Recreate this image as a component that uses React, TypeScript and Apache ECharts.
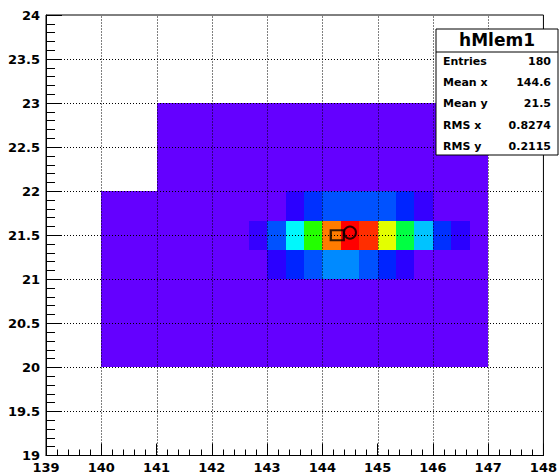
import React, { useEffect, useRef } from "react";
import * as echarts from "echarts";

// ---- data ----
const xRange = [139, 148];
const yRange = [19, 24];
const gridX = [140, 141, 142, 143, 144, 145, 146, 147];
const gridY = [19.5, 20, 20.5, 21, 21.5, 22, 22.5, 23, 23.5];
const BIN = 1 / 3;

// low-content background blocks (each filled bin carries this value)
const bgXFrom = [140, 141];
const bgXTo = [147, 147];
const bgYFrom = [20, 22];
const bgYTo = [22, 23];
const bgValue = 1;

// core rows of the peak (bin contents, left to right)
const coreRowY = [21, 21 + 1 / 3, 21 + 2 / 3];
const coreRowXStart = [143, 142 + 2 / 3, 143 + 1 / 3];
const coreRowLow = [6, 13, 17, 22, 22, 17, 13, 6];
const coreRowMid = [5, 17, 32, 58, 89, 100, 96, 75, 49, 27, 14, 6];
const coreRowTop = [6, 14, 17, 17, 17, 17, 13, 5];
const coreRows = [coreRowLow, coreRowMid, coreRowTop];

const squareMarker = [[144.27, 21.5]];
const circleMarker = [[144.5, 21.53]];

const statNames = ["Entries", "Mean x", "Mean y", "RMS x", "RMS y"];
const statValues = ["180", "144.6", "21.5", "0.8274", "0.2115"];
const histTitle = "hMlem1";

// ---- palette (style) ----
function hueHex(h: number): string {
  const f = (n: number) => {
    const k = (n + h / 30) % 12;
    const v = 0.5 - 0.5 * Math.max(-1, Math.min(k - 3, 9 - k, 1));
    return Math.round(v * 255).toString(16).padStart(2, "0");
  };
  return "#" + f(0) + f(8) + f(4);
}
const palette: string[] = [];
for (let i = 0; i <= 38; i++) palette.push(hueHex(266 * (1 - i / 38)));

function buildCells() {
  const map = new Map<string, number[]>();
  for (let r = 0; r < bgXFrom.length; r++) {
    const i0 = Math.round(bgXFrom[r] * 3), i1 = Math.round(bgXTo[r] * 3);
    const j0 = Math.round(bgYFrom[r] * 3), j1 = Math.round(bgYTo[r] * 3);
    for (let i = i0; i < i1; i++)
      for (let j = j0; j < j1; j++)
        map.set(i + "_" + j, [i / 3, j / 3, i / 3 + BIN, j / 3 + BIN, bgValue]);
  }
  coreRows.forEach((vals, r) => {
    const j = Math.round(coreRowY[r] * 3);
    const i0 = Math.round(coreRowXStart[r] * 3);
    vals.forEach((v, k) => {
      const i = i0 + k;
      map.set(i + "_" + j, [i / 3, j / 3, i / 3 + BIN, j / 3 + BIN, v]);
    });
  });
  return Array.from(map.values());
}

function buildGridLines() {
  const lines: number[][] = [];
  gridX.forEach((x) => lines.push([x, yRange[0], x, yRange[1]]));
  gridY.forEach((y) => lines.push([xRange[0], y, xRange[1], y]));
  return lines;
}

const FONT = "DejaVu Sans";

export default function App() {
  const ref = useRef<HTMLDivElement>(null);
  useEffect(() => {
    if (!ref.current) return;
    const chart = echarts.init(ref.current, null, { renderer: "svg" });
    const cells = buildCells();
    const axisCommon = {
      type: "value" as const,
      axisLine: { show: true, lineStyle: { color: "#000", width: 1 } },
      splitLine: { show: false },
      axisLabel: { color: "#000", fontFamily: FONT, fontWeight: "bold", fontSize: 13 },
    };
    const statGraphics: any[] = [];
    statNames.forEach((n, k) => {
      const y = [61, 82, 103, 125, 146][k];
      statGraphics.push({
        type: "text", z: 101, x: 443, y, style: { text: n, fill: "#000", font: `bold 11px "${FONT}"`, textVerticalAlign: "middle", textAlign: "left" },
      });
      statGraphics.push({
        type: "text", z: 101, x: 551, y, style: { text: statValues[k], fill: "#000", font: `bold 11px "${FONT}"`, textVerticalAlign: "middle", textAlign: "right" },
      });
    });
    chart.setOption({
      animation: false,
      backgroundColor: "#fff",
      grid: { left: 46, right: 13, top: 15, bottom: 18.5, show: true, borderColor: "#000", borderWidth: 1, backgroundColor: "#fff" },
      xAxis: {
        ...axisCommon,
        min: xRange[0], max: xRange[1], interval: 1,
        axisTick: { show: true, inside: true, length: 12, lineStyle: { color: "#000" } },
        minorTick: { show: true, splitNumber: 5, length: 6, lineStyle: { color: "#000" } },
        axisLabel: { ...axisCommon.axisLabel, margin: 5 },
      },
      yAxis: {
        ...axisCommon,
        min: yRange[0], max: yRange[1], interval: 0.5,
        axisTick: { show: true, inside: true, length: 16, lineStyle: { color: "#000" } },
        minorTick: { show: true, splitNumber: 5, length: 9, lineStyle: { color: "#000" } },
        axisLabel: { ...axisCommon.axisLabel, margin: 6 },
      },
      visualMap: {
        type: "continuous", show: false, min: 0, max: 100, dimension: 4, seriesIndex: 0,
        inRange: { color: palette },
      },
      series: [
        {
          type: "custom",
          z: 2,
          data: cells,
          encode: { x: [0, 2], y: [1, 3] },
          renderItem: (params: any, api: any) => {
            const p0 = api.coord([api.value(0), api.value(1)]);
            const p1 = api.coord([api.value(2), api.value(3)]);
            const c = api.visual("color");
            const x0 = Math.round(Math.min(p0[0], p1[0]));
            const x1 = Math.round(Math.max(p0[0], p1[0]));
            const y0 = Math.round(Math.min(p0[1], p1[1]));
            const y1 = Math.round(Math.max(p0[1], p1[1]));
            return {
              type: "rect",
              shape: { x: x0, y: y0, width: x1 - x0, height: y1 - y0 },
              style: { fill: c },
            };
          },
        },
        {
          type: "custom",
          z: 10,
          silent: true,
          data: buildGridLines(),
          encode: { x: [0, 2], y: [1, 3] },
          renderItem: (params: any, api: any) => {
            const p0 = api.coord([api.value(0), api.value(1)]);
            const p1 = api.coord([api.value(2), api.value(3)]);
            const vertical = api.value(0) === api.value(2);
            const x1 = vertical ? Math.round(p0[0]) + 0.5 : p0[0];
            const x2 = vertical ? Math.round(p1[0]) + 0.5 : p1[0];
            const y1 = vertical ? p0[1] : Math.round(p0[1]) + 0.5;
            const y2 = vertical ? p1[1] : Math.round(p1[1]) + 0.5;
            return {
              type: "line",
              shape: { x1, y1, x2, y2 },
              style: { stroke: "#000", lineWidth: 1, lineDash: [1, 2] },
            };
          },
        },
        {
          type: "scatter", z: 20, data: squareMarker, symbol: "rect", symbolSize: [13, 10],
          itemStyle: { color: "rgba(0,0,0,0)", borderColor: "#000", borderWidth: 2 },
        },
        {
          type: "scatter", z: 20, data: circleMarker, symbol: "circle", symbolSize: 12,
          itemStyle: { color: "rgba(0,0,0,0)", borderColor: "#000", borderWidth: 2 },
        },
      ],
      graphic: [
        { type: "rect", z: 100, shape: { x: 436, y: 29, width: 122, height: 126 }, style: { fill: "#fff", stroke: "#000", lineWidth: 1 } },
        { type: "line", z: 101, shape: { x1: 436, y1: 52, x2: 558, y2: 52 }, style: { stroke: "#000", lineWidth: 1 } },
        { type: "text", z: 101, x: 497, y: 40, style: { text: histTitle, fill: "#000", font: `bold 17px "${FONT}"`, textAlign: "center", textVerticalAlign: "middle" } },
        ...statGraphics,
      ],
    });
    return () => chart.dispose();
  }, []);
  return <div ref={ref} style={{ position: "fixed", left: 0, top: 0, width: 560, height: 474 }} />;
}
